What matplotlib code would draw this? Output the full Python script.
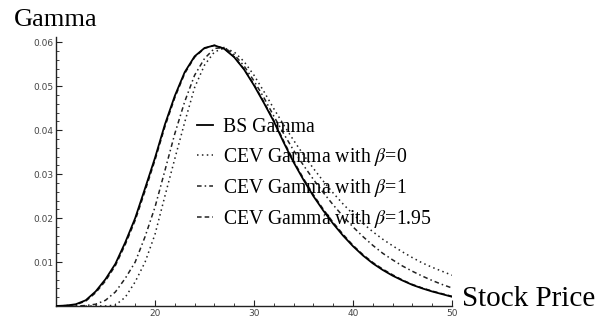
import matplotlib
matplotlib.use("Agg")
import matplotlib.pyplot as plt
from matplotlib.ticker import MultipleLocator, FixedLocator, FormatStrFormatter

# values, one point per unit of stock price
stock_price = list(range(10, 51))
bs_gamma = [0.0000, 0.0001, 0.0004, 0.0013, 0.0033, 0.0061, 0.0096, 0.0145, 0.0200, 0.0268,
            0.0337, 0.0413, 0.0478, 0.0532, 0.0568, 0.0587, 0.0593, 0.0585, 0.0566, 0.0538,
            0.0502, 0.0462, 0.0420, 0.0372, 0.0327, 0.0287, 0.0250, 0.0217, 0.0187, 0.0160,
            0.0136, 0.0115, 0.0097, 0.0082, 0.0069, 0.0058, 0.0048, 0.0040, 0.0033, 0.0027,
            0.0021]
cev_beta0 = [0.0000, 0.0000, 0.0000, 0.0000, 0.0000, 0.0000, 0.0002, 0.0020, 0.0055, 0.0100,
             0.0163, 0.0250, 0.0335, 0.0418, 0.0497, 0.0548, 0.0578, 0.0587, 0.0578, 0.0556,
             0.0525, 0.0488, 0.0449, 0.0412, 0.0377, 0.0344, 0.0313, 0.0284, 0.0257, 0.0232,
             0.0209, 0.0188, 0.0169, 0.0152, 0.0137, 0.0123, 0.0110, 0.0098, 0.0088, 0.0079,
             0.0070]
cev_beta1 = [0.0000, 0.0000, 0.0000, 0.0001, 0.0004, 0.0013, 0.0032, 0.0063, 0.0100, 0.0158,
             0.0225, 0.0308, 0.0392, 0.0465, 0.0525, 0.0563, 0.0586, 0.0588, 0.0572, 0.0546,
             0.0512, 0.0474, 0.0432, 0.0392, 0.0354, 0.0320, 0.0288, 0.0258, 0.0230, 0.0204,
             0.0180, 0.0158, 0.0138, 0.0120, 0.0105, 0.0091, 0.0079, 0.0068, 0.0058, 0.0049,
             0.0041]
cev_beta195 = [0.0000, 0.0001, 0.0003, 0.0011, 0.0030, 0.0057, 0.0092, 0.0140, 0.0195, 0.0262,
               0.0332, 0.0408, 0.0474, 0.0529, 0.0566, 0.0586, 0.0593, 0.0586, 0.0567, 0.0539,
               0.0504, 0.0464, 0.0422, 0.0375, 0.0330, 0.0290, 0.0253, 0.0220, 0.0190, 0.0163,
               0.0138, 0.0117, 0.0099, 0.0084, 0.0071, 0.0059, 0.0049, 0.0041, 0.0034, 0.0028,
               0.0022]
y_ticks = [0.01, 0.02, 0.03, 0.04, 0.05, 0.06]
x_ticks = [20, 30, 40, 50]

plt.rcParams['mathtext.fontset'] = 'stix'

fig = plt.figure(figsize=(6, 3.21), dpi=100, facecolor='white')
ax = fig.add_axes([56 / 600, 15 / 321, 396 / 600, 269 / 321])

ax.plot(stock_price, cev_beta0, color='#222222', lw=1.1, linestyle=(0, (1, 2.2)),
        label=r'CEV Gamma with $\beta$=0')
ax.plot(stock_price, cev_beta1, color='#222222', lw=1.1, linestyle=(0, (3, 2, 1, 2)),
        label=r'CEV Gamma with $\beta$=1')
ax.plot(stock_price, cev_beta195, color='#222222', lw=1.1, linestyle=(0, (3, 2)),
        label=r'CEV Gamma with $\beta$=1.95')
ax.plot(stock_price, bs_gamma, color='black', lw=1.3, label='BS Gamma', zorder=5)

ax.set_xlim(10, 50)
ax.set_ylim(0, 0.0612)
for side in ['top', 'right']:
    ax.spines[side].set_visible(False)
for side in ['left', 'bottom']:
    ax.spines[side].set_linewidth(1.0)
    ax.spines[side].set_color('#222222')

ax.xaxis.set_major_locator(FixedLocator(x_ticks))
ax.xaxis.set_minor_locator(MultipleLocator(2))
ax.yaxis.set_major_locator(FixedLocator(y_ticks))
ax.yaxis.set_minor_locator(MultipleLocator(0.002))
ax.yaxis.set_major_formatter(FormatStrFormatter('%.2f'))
ax.tick_params(which='major', direction='in', length=4, width=0.8, color='#222222',
               labelsize=6.5, labelcolor='#444444', pad=2)
ax.tick_params(which='minor', direction='in', length=2, width=0.6, color='#222222')

handles, labels = ax.get_legend_handles_labels()
order = [3, 0, 1, 2]
ax.legend([handles[i] for i in order], [labels[i] for i in order],
          loc='upper left', bbox_to_anchor=(197 / 600, 1 - 118 / 321),
          bbox_transform=fig.transFigure, frameon=False, borderpad=0, borderaxespad=0,
          handlelength=0.8, handletextpad=0.5, labelspacing=0.45,
          prop={'family': 'Liberation Serif', 'size': 14.2})

fig.text(14 / 600, 1 - 26 / 321, 'Gamma', family='Liberation Serif', fontsize=19,
         va='baseline', ha='left')
fig.text(462 / 600, 1 - 306 / 321, 'Stock Price', family='Liberation Serif', fontsize=21,
         va='baseline', ha='left')

fig.savefig('out.png', dpi=100, facecolor='white')
